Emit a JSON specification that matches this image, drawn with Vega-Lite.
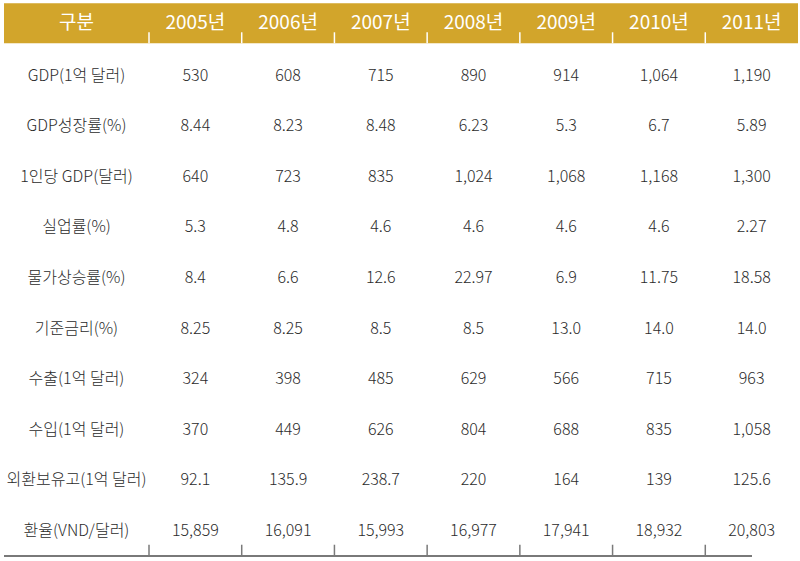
{
  "$schema": "https://vega.github.io/schema/vega-lite/v6.json",
  "background": "white",
  "padding": {"left": 3, "right": 3, "top": 0, "bottom": 5},
  "spacing": 0,
  "bounds": "flush",
  "config": {
    "view": {"stroke": null},
    "font": "Noto Sans CJK KR",
    "text": {"font": "Noto Sans CJK KR"}
  },
  "datasets": {
    "table": [
      {"row": "구분", "col": "구분", "v": "구분"},
      {"row": "구분", "col": "2005년", "v": "2005년"},
      {"row": "구분", "col": "2006년", "v": "2006년"},
      {"row": "구분", "col": "2007년", "v": "2007년"},
      {"row": "구분", "col": "2008년", "v": "2008년"},
      {"row": "구분", "col": "2009년", "v": "2009년"},
      {"row": "구분", "col": "2010년", "v": "2010년"},
      {"row": "구분", "col": "2011년", "v": "2011년"},

      {"row": "GDP(1억 달러)", "col": "구분", "v": "GDP(1억 달러)"},
      {"row": "GDP(1억 달러)", "col": "2005년", "v": "530"},
      {"row": "GDP(1억 달러)", "col": "2006년", "v": "608"},
      {"row": "GDP(1억 달러)", "col": "2007년", "v": "715"},
      {"row": "GDP(1억 달러)", "col": "2008년", "v": "890"},
      {"row": "GDP(1억 달러)", "col": "2009년", "v": "914"},
      {"row": "GDP(1억 달러)", "col": "2010년", "v": "1,064"},
      {"row": "GDP(1억 달러)", "col": "2011년", "v": "1,190"},

      {"row": "GDP성장률(%)", "col": "구분", "v": "GDP성장률(%)"},
      {"row": "GDP성장률(%)", "col": "2005년", "v": "8.44"},
      {"row": "GDP성장률(%)", "col": "2006년", "v": "8.23"},
      {"row": "GDP성장률(%)", "col": "2007년", "v": "8.48"},
      {"row": "GDP성장률(%)", "col": "2008년", "v": "6.23"},
      {"row": "GDP성장률(%)", "col": "2009년", "v": "5.3"},
      {"row": "GDP성장률(%)", "col": "2010년", "v": "6.7"},
      {"row": "GDP성장률(%)", "col": "2011년", "v": "5.89"},

      {"row": "1인당 GDP(달러)", "col": "구분", "v": "1인당 GDP(달러)"},
      {"row": "1인당 GDP(달러)", "col": "2005년", "v": "640"},
      {"row": "1인당 GDP(달러)", "col": "2006년", "v": "723"},
      {"row": "1인당 GDP(달러)", "col": "2007년", "v": "835"},
      {"row": "1인당 GDP(달러)", "col": "2008년", "v": "1,024"},
      {"row": "1인당 GDP(달러)", "col": "2009년", "v": "1,068"},
      {"row": "1인당 GDP(달러)", "col": "2010년", "v": "1,168"},
      {"row": "1인당 GDP(달러)", "col": "2011년", "v": "1,300"},

      {"row": "실업률(%)", "col": "구분", "v": "실업률(%)"},
      {"row": "실업률(%)", "col": "2005년", "v": "5.3"},
      {"row": "실업률(%)", "col": "2006년", "v": "4.8"},
      {"row": "실업률(%)", "col": "2007년", "v": "4.6"},
      {"row": "실업률(%)", "col": "2008년", "v": "4.6"},
      {"row": "실업률(%)", "col": "2009년", "v": "4.6"},
      {"row": "실업률(%)", "col": "2010년", "v": "4.6"},
      {"row": "실업률(%)", "col": "2011년", "v": "2.27"},

      {"row": "물가상승률(%)", "col": "구분", "v": "물가상승률(%)"},
      {"row": "물가상승률(%)", "col": "2005년", "v": "8.4"},
      {"row": "물가상승률(%)", "col": "2006년", "v": "6.6"},
      {"row": "물가상승률(%)", "col": "2007년", "v": "12.6"},
      {"row": "물가상승률(%)", "col": "2008년", "v": "22.97"},
      {"row": "물가상승률(%)", "col": "2009년", "v": "6.9"},
      {"row": "물가상승률(%)", "col": "2010년", "v": "11.75"},
      {"row": "물가상승률(%)", "col": "2011년", "v": "18.58"},

      {"row": "기준금리(%)", "col": "구분", "v": "기준금리(%)"},
      {"row": "기준금리(%)", "col": "2005년", "v": "8.25"},
      {"row": "기준금리(%)", "col": "2006년", "v": "8.25"},
      {"row": "기준금리(%)", "col": "2007년", "v": "8.5"},
      {"row": "기준금리(%)", "col": "2008년", "v": "8.5"},
      {"row": "기준금리(%)", "col": "2009년", "v": "13.0"},
      {"row": "기준금리(%)", "col": "2010년", "v": "14.0"},
      {"row": "기준금리(%)", "col": "2011년", "v": "14.0"},

      {"row": "수출(1억 달러)", "col": "구분", "v": "수출(1억 달러)"},
      {"row": "수출(1억 달러)", "col": "2005년", "v": "324"},
      {"row": "수출(1억 달러)", "col": "2006년", "v": "398"},
      {"row": "수출(1억 달러)", "col": "2007년", "v": "485"},
      {"row": "수출(1억 달러)", "col": "2008년", "v": "629"},
      {"row": "수출(1억 달러)", "col": "2009년", "v": "566"},
      {"row": "수출(1억 달러)", "col": "2010년", "v": "715"},
      {"row": "수출(1억 달러)", "col": "2011년", "v": "963"},

      {"row": "수입(1억 달러)", "col": "구분", "v": "수입(1억 달러)"},
      {"row": "수입(1억 달러)", "col": "2005년", "v": "370"},
      {"row": "수입(1억 달러)", "col": "2006년", "v": "449"},
      {"row": "수입(1억 달러)", "col": "2007년", "v": "626"},
      {"row": "수입(1억 달러)", "col": "2008년", "v": "804"},
      {"row": "수입(1억 달러)", "col": "2009년", "v": "688"},
      {"row": "수입(1억 달러)", "col": "2010년", "v": "835"},
      {"row": "수입(1억 달러)", "col": "2011년", "v": "1,058"},

      {"row": "외환보유고(1억 달러)", "col": "구분", "v": "외환보유고(1억 달러)"},
      {"row": "외환보유고(1억 달러)", "col": "2005년", "v": "92.1"},
      {"row": "외환보유고(1억 달러)", "col": "2006년", "v": "135.9"},
      {"row": "외환보유고(1억 달러)", "col": "2007년", "v": "238.7"},
      {"row": "외환보유고(1억 달러)", "col": "2008년", "v": "220"},
      {"row": "외환보유고(1억 달러)", "col": "2009년", "v": "164"},
      {"row": "외환보유고(1억 달러)", "col": "2010년", "v": "139"},
      {"row": "외환보유고(1억 달러)", "col": "2011년", "v": "125.6"},

      {"row": "환율(VND/달러)", "col": "구분", "v": "환율(VND/달러)"},
      {"row": "환율(VND/달러)", "col": "2005년", "v": "15,859"},
      {"row": "환율(VND/달러)", "col": "2006년", "v": "16,091"},
      {"row": "환율(VND/달러)", "col": "2007년", "v": "15,993"},
      {"row": "환율(VND/달러)", "col": "2008년", "v": "16,977"},
      {"row": "환율(VND/달러)", "col": "2009년", "v": "17,941"},
      {"row": "환율(VND/달러)", "col": "2010년", "v": "18,932"},
      {"row": "환율(VND/달러)", "col": "2011년", "v": "20,803"}
    ]
  },
  "hconcat": [
    {
      "width": 145,
      "height": 556,
      "data": {"name": "table"},
      "transform": [{"filter": "datum.col == '구분'"}],
      "encoding": {
        "y": {
          "field": "row", "type": "nominal", "axis": null,
          "scale": {
            "domain": ["구분", "GDP(1억 달러)", "GDP성장률(%)", "1인당 GDP(달러)", "실업률(%)", "물가상승률(%)", "기준금리(%)", "수출(1억 달러)", "수입(1억 달러)", "외환보유고(1억 달러)", "환율(VND/달러)"],
            "paddingInner": 0, "paddingOuter": 0
          }
        }
      },
      "layer": [
        {
          "transform": [{"filter": "datum.row == '구분'"}],
          "mark": {"type": "bar", "color": "#D2A52B", "height": {"band": 0.79}, "yOffset": -2},
          "encoding": {"x": {"value": 0}, "x2": {"value": "width"}}
        },
        {
          "transform": [{"filter": "datum.row == '구분'"}],
          "mark": {"type": "text", "color": "white", "fontSize": 19, "fontWeight": 400, "dy": -2},
          "encoding": {
            "x": {"field": "col", "type": "nominal", "axis": null, "scale": {"paddingInner": 0, "paddingOuter": 0}},
            "text": {"field": "v"}
          }
        },
        {
          "transform": [{"filter": "datum.row != '구분'"}],
          "mark": {"type": "text", "color": "#2b2b2b", "fontSize": 16, "fontWeight": 300},
          "encoding": {
            "x": {"field": "col", "type": "nominal", "axis": null, "scale": {"paddingInner": 0, "paddingOuter": 0}},
            "text": {"field": "v"}
          }
        },
        {
          "mark": {"type": "rule", "color": "#7a7a7a", "strokeWidth": 1.5},
          "encoding": {"y": {"value": "height"}}
        }
      ]
    },
    {
      "width": 649,
      "height": 556,
      "data": {"name": "table"},
      "transform": [{"filter": "datum.col != '구분'"}],
      "encoding": {
        "x": {"field": "col", "type": "nominal", "axis": null, "scale": {"paddingInner": 0, "paddingOuter": 0}},
        "y": {
          "field": "row", "type": "nominal", "axis": null,
          "scale": {
            "domain": ["구분", "GDP(1억 달러)", "GDP성장률(%)", "1인당 GDP(달러)", "실업률(%)", "물가상승률(%)", "기준금리(%)", "수출(1억 달러)", "수입(1억 달러)", "외환보유고(1억 달러)", "환율(VND/달러)"],
            "paddingInner": 0, "paddingOuter": 0
          }
        }
      },
      "layer": [
        {
          "transform": [{"filter": "datum.row == '구분' && datum.col == '2005년'"}],
          "mark": {"type": "bar", "color": "#D2A52B", "height": {"band": 0.79}, "yOffset": -2},
          "encoding": {"x": {"value": 0}, "x2": {"value": "width"}}
        },
        {
          "transform": [{"filter": "datum.row == '구분'"}],
          "mark": {"type": "text", "color": "white", "fontSize": 19, "fontWeight": 400, "dy": -2},
          "encoding": {"text": {"field": "v"}}
        },
        {
          "transform": [{"filter": "datum.row != '구분'"}],
          "mark": {"type": "text", "color": "#2b2b2b", "fontSize": 16, "fontWeight": 300},
          "encoding": {"text": {"field": "v"}}
        },
        {
          "transform": [{"filter": "datum.row == '구분'"}],
          "mark": {"type": "tick", "orient": "vertical", "color": "white", "size": 11, "thickness": 1.5, "opacity": 1, "yOffset": 12.5},
          "encoding": {
            "x": {"field": "col", "type": "nominal", "bandPosition": 0}
          }
        },
        {
          "transform": [{"filter": "datum.row == '환율(VND/달러)'"}],
          "mark": {"type": "tick", "orient": "vertical", "color": "#7a7a7a", "size": 11, "thickness": 1.5, "opacity": 1, "yOffset": 19.5},
          "encoding": {
            "x": {"field": "col", "type": "nominal", "bandPosition": 0}
          }
        },
        {
          "mark": {"type": "rule", "color": "#7a7a7a", "strokeWidth": 1.5},
          "encoding": {"y": {"value": "height"}}
        }
      ]
    }
  ]
}
